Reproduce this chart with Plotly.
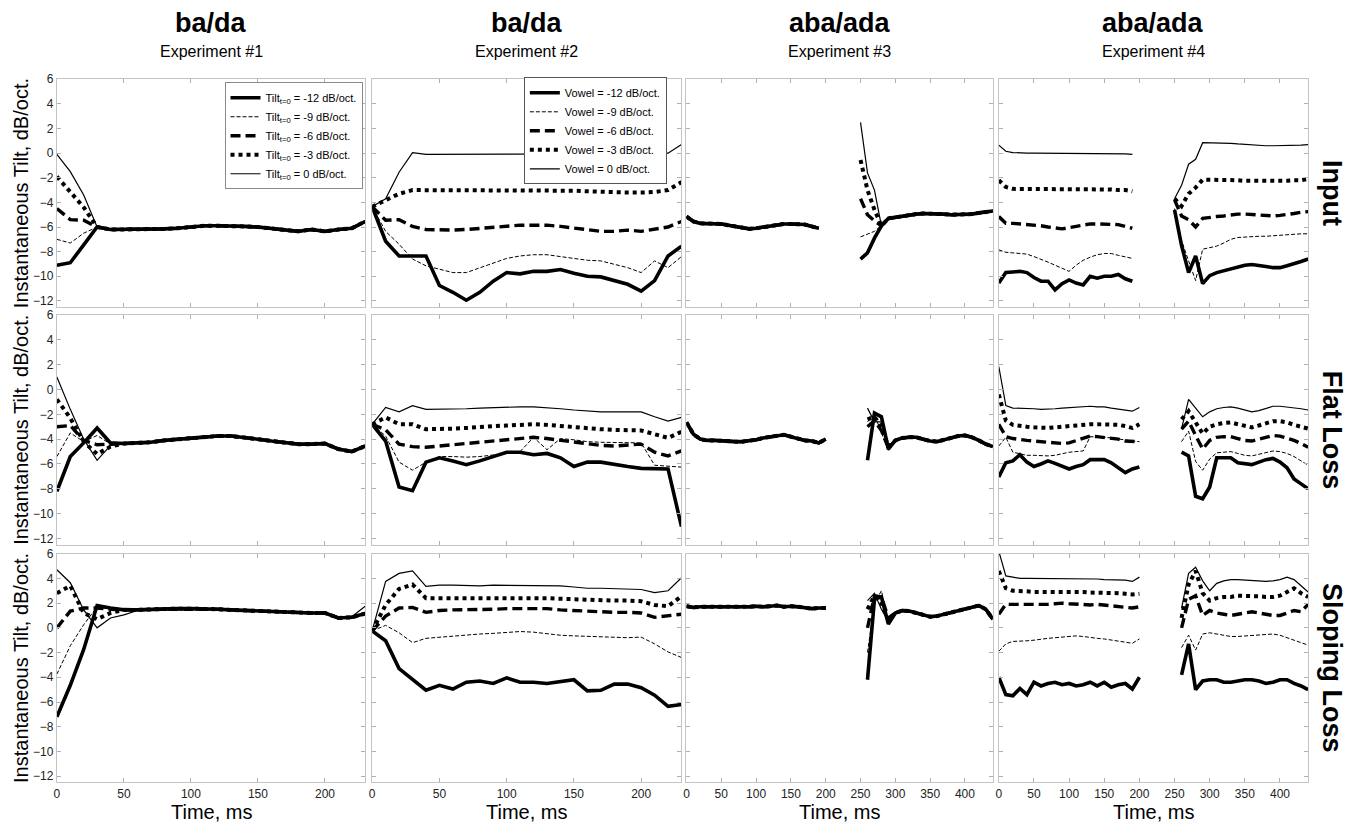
import plotly.graph_objects as go

# ---------------- data ----------------
series_keys = ["m12", "m9", "m6", "m3", "z0"]
tilt_values = [-12, -9, -6, -3, 0]
col_titles = ["ba/da", "ba/da", "aba/ada", "aba/ada"]
col_subtitles = ["Experiment #1", "Experiment #2", "Experiment #3", "Experiment #4"]
row_labels = ["Input", "Flat Loss", "Sloping Loss"]
x_ticks_short = [0, 50, 100, 150, 200]
x_ticks_long = [0, 50, 100, 150, 200, 250, 300, 350, 400]
y_ticks = [-12, -10, -8, -6, -4, -2, 0, 2, 4, 6]

# time grids (ms)
t_e12 = [0, 10, 20, 30, 40, 50, 60, 70, 80, 90, 100, 110, 120, 130, 140, 150, 160, 170, 180, 190, 200, 210, 220, 230]
t_seg1_190 = [0, 10, 20, 30, 40, 50, 60, 70, 80, 90, 100, 110, 120, 130, 140, 150, 160, 170, 180, 190]
t_seg1_200 = [0, 10, 20, 30, 40, 50, 60, 70, 80, 90, 100, 110, 120, 130, 140, 150, 160, 170, 180, 190, 200]
t_seg2_250 = [250, 260, 270, 280, 290, 300, 310, 320, 330, 340, 350, 360, 370, 380, 390, 400, 410, 420, 430, 440]
t_seg2_260 = [260, 270, 280, 290, 300, 310, 320, 330, 340, 350, 360, 370, 380, 390, 400, 410, 420, 430, 440]

# ---- Experiment 1, Input (0..230) ----
in1_common = [-6.0, -6.2, -6.2, -6.2, -6.2, -6.15, -6.1, -6.0, -5.9, -5.9, -5.9, -5.95, -6.0, -6.1, -6.2, -6.35, -6.2, -6.35, -6.2, -6.1, -5.55]
in1_m12 = [-9.1, -8.9, -7.45] + in1_common
in1_m9 = [-7.0, -7.3, -6.5] + in1_common
in1_m6 = [-4.5, -5.4, -5.45] + in1_common
in1_m3 = [-1.9, -3.1, -4.4] + in1_common
in1_z0 = [-0.1, -1.5, -3.4] + in1_common

# ---- Experiment 1, Flat Loss ----
fl1_common = [-4.35, -4.3, -4.25, -4.1, -4.0, -3.9, -3.8, -3.75, -3.75, -3.85, -4.0, -4.15, -4.3, -4.4, -4.4, -4.35, -4.8, -5.0, -4.55]
fl1_m12 = [-8.2, -5.4, -4.3, -3.1, -4.3] + fl1_common
fl1_m9 = [-5.4, -3.5, -4.2, -3.7, -4.4] + fl1_common
fl1_m6 = [-3.0, -2.9, -4.1, -4.45, -4.4] + fl1_common
fl1_m3 = [-0.8, -2.3, -4.2, -5.2, -4.6] + fl1_common
fl1_z0 = [1.0, -1.6, -4.0, -5.7, -4.5] + fl1_common

# ---- Experiment 1, Sloping Loss ----
sl1_common = [1.45, 1.45, 1.5, 1.5, 1.55, 1.55, 1.55, 1.5, 1.45, 1.4, 1.35, 1.3, 1.25, 1.2, 1.2, 1.2, 0.8, 0.85, 1.15]
sl1_m12 = [-7.2, -4.65, -1.75, 1.8, 1.6] + sl1_common
sl1_m9 = [-3.75, -1.45, 0.25, 1.7, 1.5] + sl1_common
sl1_m6 = [0.0, 1.35, 1.6, 1.6, 1.5] + sl1_common
sl1_m3 = [2.8, 3.4, 1.2, 0.7, 1.2] + sl1_common
sl1_z0 = [4.7, 3.65, 1.45, 0.0, 0.8, 1.05, 1.4, 1.5, 1.5, 1.55, 1.55, 1.55, 1.5, 1.45, 1.4, 1.35, 1.3, 1.25, 1.2, 1.2, 1.2, 0.85, 0.9, 1.75]

# ---- Experiment 2, Input ----
in2_m12 = [-4.35, -7.15, -8.35, -8.35, -8.35, -10.75, -11.3, -11.95, -11.3, -10.4, -9.7, -9.8, -9.6, -9.6, -9.45, -9.75, -10.0, -10.05, -10.35, -10.65, -11.2, -10.35, -8.35, -7.55]
in2_m9 = [-4.35, -6.35, -7.4, -8.6, -9.15, -9.4, -9.7, -9.7, -9.3, -8.9, -8.55, -8.35, -8.25, -8.25, -8.4, -8.6, -8.7, -8.75, -9.0, -9.3, -9.7, -8.75, -9.3, -8.4]
in2_m6 = [-4.35, -5.45, -5.4, -5.95, -6.2, -6.25, -6.25, -6.2, -6.1, -6.0, -5.9, -5.85, -5.85, -5.85, -5.95, -6.1, -6.2, -6.35, -6.35, -6.25, -6.35, -6.2, -6.0, -5.55]
in2_m3 = [-4.35, -3.8, -3.3, -3.0, -3.0, -3.0, -3.0, -3.0, -3.0, -3.0, -3.0, -3.0, -3.0, -3.0, -3.0, -3.05, -3.1, -3.15, -3.2, -3.2, -3.2, -3.15, -3.0, -2.35]
in2_z0 = [-4.35, -3.7, -1.55, 0.05, -0.1, -0.1, -0.05, -0.05, -0.05, -0.05, -0.05, -0.05, -0.05, -0.05, -0.05, -0.05, -0.05, -0.05, -0.05, -0.05, -0.05, -0.05, 0.0, 0.7]

# ---- Experiment 2, Flat Loss ----
fl2_m12 = [-2.8, -4.15, -7.85, -8.15, -5.85, -5.5, -5.75, -6.05, -5.75, -5.4, -5.05, -5.05, -5.25, -5.15, -5.5, -6.2, -5.85, -5.85, -6.05, -6.2, -6.35, -6.4, -6.4, -11.05]
fl2_m9 = [-2.8, -3.75, -5.85, -6.5, -5.85, -5.4, -5.4, -5.45, -5.4, -5.3, -5.15, -5.0, -3.85, -4.85, -3.95, -4.05, -4.2, -4.25, -4.25, -4.3, -4.3, -6.1, -6.2, -6.25]
fl2_m6 = [-2.8, -3.25, -4.4, -4.6, -4.65, -4.55, -4.45, -4.35, -4.25, -4.15, -4.1, -4.0, -3.85, -3.95, -4.1, -4.25, -4.4, -4.5, -4.55, -4.5, -4.4, -5.05, -5.35, -4.95]
fl2_m3 = [-2.8, -2.25, -2.8, -2.8, -3.2, -3.2, -3.15, -3.1, -3.0, -2.95, -2.9, -2.85, -2.8, -2.85, -2.95, -3.05, -3.15, -3.2, -3.25, -3.3, -3.3, -3.6, -3.9, -3.4]
fl2_z0 = [-2.8, -1.45, -1.8, -1.3, -1.6, -1.6, -1.6, -1.55, -1.5, -1.45, -1.45, -1.4, -1.4, -1.45, -1.55, -1.65, -1.75, -1.8, -1.8, -1.8, -1.8, -2.2, -2.55, -2.25]

# ---- Experiment 2, Sloping Loss ----
sl2_m12 = [-0.25, -1.05, -3.3, -4.2, -5.05, -4.65, -4.95, -4.4, -4.3, -4.5, -4.05, -4.4, -4.4, -4.5, -4.35, -4.2, -5.1, -5.05, -4.55, -4.55, -4.85, -5.45, -6.35, -6.2]
sl2_m9 = [-0.25, 0.2, -0.4, -1.2, -0.85, -0.75, -0.65, -0.55, -0.5, -0.45, -0.4, -0.3, -0.35, -0.5, -0.6, -0.65, -0.7, -0.75, -0.8, -0.8, -0.75, -1.3, -1.95, -2.4]
sl2_m6 = [-0.25, 0.95, 1.6, 1.65, 1.25, 1.4, 1.45, 1.45, 1.5, 1.5, 1.55, 1.55, 1.6, 1.55, 1.45, 1.4, 1.3, 1.25, 1.25, 1.25, 1.2, 0.85, 0.95, 1.1]
sl2_m3 = [-0.25, 1.85, 3.15, 3.5, 2.4, 2.4, 2.4, 2.4, 2.45, 2.45, 2.45, 2.45, 2.45, 2.4, 2.35, 2.3, 2.25, 2.2, 2.2, 2.2, 2.15, 1.85, 1.75, 2.55]
sl2_z0 = [-0.25, 3.75, 4.4, 4.6, 3.35, 3.45, 3.45, 3.4, 3.4, 3.45, 3.45, 3.4, 3.4, 3.4, 3.4, 3.3, 3.2, 3.2, 3.15, 3.15, 3.1, 2.85, 3.0, 4.05]

# ---- Experiment 3, Input (0..190 | 250..440) ----
in3_a = [-5.15, -5.55, -5.7, -5.7, -5.72, -5.75, -5.85, -5.95, -6.05, -6.15, -6.1, -6.0, -5.9, -5.8, -5.75, -5.75, -5.75, -5.8, -5.95, -6.1]
in3_tail = [-5.9, -5.3, -5.2, -5.1, -5.0, -4.95, -4.9, -4.9, -4.95, -4.95, -5.0, -5.0, -5.0, -4.95, -4.85, -4.8, -4.7]
in3_m12 = [-8.6, -8.1, -6.9] + in3_tail
in3_m9 = [-6.8, -6.6, -6.35] + in3_tail
in3_m6 = [-3.7, -5.0, -5.5] + in3_tail
in3_m3 = [-0.55, -3.0, -4.6] + in3_tail
in3_z0 = [2.5, -1.6, -3.0] + in3_tail

# ---- Experiment 3, Flat Loss (0..200 | 260..440) ----
fl3_a = [-2.65, -3.6, -4.0, -4.1, -4.1, -4.15, -4.15, -4.2, -4.2, -4.15, -4.05, -3.9, -3.8, -3.7, -3.65, -3.8, -3.95, -4.1, -4.15, -4.3, -4.0]
fl3_tail = [-4.1, -3.9, -3.85, -3.85, -4.0, -4.15, -4.2, -4.05, -3.9, -3.75, -3.7, -3.85, -4.1, -4.4, -4.6]
fl3_m12 = [-5.7, -1.9, -2.2, -4.8] + fl3_tail
fl3_m9 = [-2.6, -2.0, -3.5, -4.9] + fl3_tail
fl3_m6 = [-3.0, -2.5, -3.3, -4.7] + fl3_tail
fl3_m3 = [-2.4, -2.2, -3.0, -4.6] + fl3_tail
fl3_z0 = [-1.5, -2.6, -2.6, -4.5] + fl3_tail

# ---- Experiment 3, Sloping Loss (0..200 | 260..440) ----
sl3_a = [1.75, 1.65, 1.7, 1.7, 1.65, 1.7, 1.65, 1.7, 1.65, 1.7, 1.75, 1.7, 1.75, 1.8, 1.7, 1.75, 1.7, 1.6, 1.55, 1.6, 1.6]
sl3_tail = [1.2, 1.4, 1.35, 1.2, 1.0, 0.9, 0.95, 1.1, 1.25, 1.4, 1.5, 1.65, 1.8, 1.5, 0.7]
sl3_m12 = [-4.2, 2.3, 2.5, 0.3] + sl3_tail
sl3_m9 = [-2.0, 2.0, 3.0, 0.5] + sl3_tail
sl3_m6 = [0.0, 2.6, 2.5, 0.8] + sl3_tail
sl3_m3 = [1.5, 2.6, 2.0, 0.6] + sl3_tail
sl3_z0 = [2.2, 2.8, 1.5, 0.5] + sl3_tail

# ---- Experiment 4, Input (0..190 | 250..440) ----
in4_m12_a = [-10.55, -9.7, -9.65, -9.6, -9.7, -10.1, -10.4, -10.4, -11.1, -10.6, -10.3, -10.55, -10.7, -10.0, -10.15, -10.0, -10.0, -9.85, -10.2, -10.4]
in4_m9_a = [-7.85, -8.05, -8.1, -8.15, -8.2, -8.4, -8.6, -8.85, -9.1, -9.35, -9.6, -9.1, -8.7, -8.45, -8.25, -8.15, -8.15, -8.3, -8.45, -8.55]
in4_m6_a = [-5.15, -5.7, -5.7, -5.75, -5.75, -5.8, -5.9, -6.0, -6.1, -6.15, -6.05, -5.95, -5.85, -5.75, -5.75, -5.75, -5.8, -5.8, -5.95, -6.1]
in4_m3_a = [-2.2, -2.75, -2.9, -2.9, -2.95, -2.95, -2.95, -2.95, -2.95, -2.95, -2.95, -2.95, -2.95, -2.95, -2.95, -2.95, -2.95, -3.0, -3.0, -3.1]
in4_z0_a = [0.65, 0.15, 0.05, 0.0, 0.0, 0.0, 0.0, 0.0, 0.0, 0.0, 0.0, 0.0, 0.0, 0.0, 0.0, 0.0, 0.0, 0.0, -0.05, -0.1]
in4_m12_b = [-4.6, -7.5, -9.7, -8.35, -10.6, -9.95, -9.7, -9.55, -9.4, -9.25, -9.1, -9.05, -9.1, -9.2, -9.3, -9.3, -9.15, -9.0, -8.8, -8.6]
in4_m9_b = [-4.5, -7.1, -8.75, -10.35, -7.8, -7.7, -7.55, -7.3, -7.0, -6.85, -6.8, -6.75, -6.75, -6.75, -6.7, -6.7, -6.65, -6.6, -6.55, -6.55]
in4_m6_b = [-3.8, -5.1, -5.4, -6.0, -5.3, -5.2, -5.15, -5.1, -5.0, -4.95, -4.95, -5.0, -5.05, -5.1, -5.1, -5.05, -5.0, -4.9, -4.8, -4.75]
in4_m3_b = [-3.7, -4.3, -3.3, -2.8, -2.15, -2.15, -2.15, -2.2, -2.2, -2.2, -2.25, -2.25, -2.25, -2.3, -2.3, -2.3, -2.25, -2.2, -2.2, -2.1]
in4_z0_b = [-3.7, -2.6, -0.9, -0.5, 0.85, 0.85, 0.8, 0.8, 0.8, 0.75, 0.7, 0.65, 0.6, 0.6, 0.6, 0.6, 0.62, 0.65, 0.65, 0.7]

# ---- Experiment 4, Flat Loss (0..200 | 260..440) ----
fl4_m12_a = [-7.05, -5.9, -5.75, -5.25, -5.85, -6.2, -6.0, -5.75, -5.95, -6.15, -6.4, -6.2, -6.05, -5.65, -5.65, -5.65, -5.9, -6.3, -6.7, -6.4, -6.25]
fl4_m9_a = [-4.55, -3.85, -5.05, -5.2, -5.3, -5.3, -5.35, -5.35, -5.3, -5.15, -5.05, -5.0, -4.95, -3.8, -3.8, -3.85, -3.9, -4.0, -4.1, -4.15, -4.2]
fl4_m6_a = [-2.8, -3.8, -3.95, -4.05, -4.1, -4.15, -4.2, -4.25, -4.3, -4.35, -4.3, -4.1, -3.9, -3.75, -3.8, -3.85, -3.9, -4.0, -4.15, -4.2, -4.2]
fl4_m3_a = [-0.4, -2.5, -2.85, -2.95, -3.0, -3.05, -3.1, -3.1, -3.05, -3.0, -2.9, -2.85, -2.8, -2.8, -2.8, -2.8, -2.8, -2.85, -2.95, -3.1, -2.8]
fl4_z0_a = [1.85, -1.3, -1.5, -1.5, -1.55, -1.55, -1.6, -1.6, -1.55, -1.5, -1.45, -1.4, -1.35, -1.35, -1.4, -1.4, -1.5, -1.6, -1.7, -1.75, -1.45]
fl4_m12_b = [-5.05, -5.35, -8.6, -8.8, -7.85, -5.5, -5.5, -5.5, -5.9, -6.0, -6.05, -5.85, -5.65, -5.55, -5.85, -6.3, -7.2, -7.6, -8.0]
fl4_m9_b = [-4.2, -3.35, -5.8, -6.5, -5.6, -5.1, -5.05, -5.0, -5.15, -5.3, -5.35, -5.2, -5.05, -4.95, -5.0, -5.15, -5.4, -5.75, -6.1]
fl4_m6_b = [-3.2, -2.55, -3.7, -4.8, -4.1, -3.85, -3.8, -3.8, -3.95, -4.1, -4.15, -4.0, -3.8, -3.7, -3.75, -3.9, -4.1, -4.35, -4.65]
fl4_m3_b = [-2.4, -1.75, -2.65, -3.55, -3.0, -2.8, -2.7, -2.65, -2.8, -2.95, -3.05, -2.9, -2.7, -2.55, -2.55, -2.65, -2.85, -3.0, -3.15]
fl4_z0_b = [-3.15, -0.8, -1.5, -2.2, -1.8, -1.55, -1.45, -1.4, -1.5, -1.65, -1.8, -1.7, -1.5, -1.35, -1.35, -1.4, -1.45, -1.55, -1.65]

# ---- Experiment 4, Sloping Loss (0..200 | 260..440) ----
sl4_m12_a = [-4.0, -5.4, -5.5, -4.9, -5.4, -4.4, -4.7, -4.5, -4.4, -4.6, -4.5, -4.7, -4.6, -4.4, -4.7, -4.4, -4.8, -4.6, -4.5, -4.95, -4.0]
sl4_m9_a = [-1.9, -1.3, -1.1, -1.1, -1.05, -1.0, -0.9, -0.85, -0.8, -0.75, -0.7, -0.65, -0.7, -0.8, -0.85, -0.9, -1.0, -1.1, -1.15, -1.25, -0.9]
sl4_m6_a = [1.1, 1.9, 1.9, 1.9, 1.85, 1.85, 1.9, 1.9, 1.95, 2.0, 1.95, 1.9, 1.85, 1.85, 1.9, 1.85, 1.75, 1.7, 1.65, 1.6, 1.7]
sl4_m3_a = [4.6, 3.2, 3.0, 3.0, 2.95, 2.9, 2.9, 2.95, 2.95, 2.9, 2.9, 2.9, 2.9, 2.85, 2.85, 2.8, 2.8, 2.8, 2.75, 2.7, 2.75]
sl4_z0_a = [6.2, 4.2, 4.1, 4.0, 4.0, 4.0, 4.0, 4.0, 4.0, 3.95, 4.0, 4.0, 4.0, 4.0, 3.95, 3.9, 3.9, 3.85, 3.85, 3.75, 4.1]
sl4_m12_b = [-3.8, -1.3, -5.0, -4.3, -4.2, -4.2, -4.4, -4.4, -4.3, -4.2, -4.2, -4.3, -4.5, -4.4, -4.2, -4.2, -4.5, -4.7, -5.0]
sl4_m9_b = [-1.6, -0.6, -1.8, -0.5, -0.4, -0.5, -0.6, -0.7, -0.7, -0.65, -0.6, -0.55, -0.5, -0.5, -0.6, -0.8, -1.0, -1.2, -1.4]
sl4_m6_b = [0.0, 2.3, 2.6, 1.0, 1.4, 1.2, 1.1, 1.0, 1.1, 1.2, 1.3, 1.2, 1.1, 1.0, 1.0, 1.2, 1.4, 1.3, 1.9]
sl4_m3_b = [0.8, 3.5, 4.6, 2.8, 2.2, 2.4, 2.5, 2.5, 2.6, 2.6, 2.6, 2.55, 2.5, 2.5, 2.6, 2.9, 3.2, 2.8, 2.5]
sl4_z0_b = [1.6, 4.4, 4.9, 3.8, 3.0, 3.6, 3.8, 3.9, 3.9, 3.85, 3.8, 3.8, 3.75, 3.8, 3.9, 4.1, 3.9, 3.4, 2.9]

# ---------------- assembly ----------------
def join(ta, ya, tb, yb):
    return ta + [None] + tb, ya + [None] + yb

panels = {
    (0, 0): {k: (t_e12, v) for k, v in zip(series_keys, [in1_m12, in1_m9, in1_m6, in1_m3, in1_z0])},
    (1, 0): {k: (t_e12, v) for k, v in zip(series_keys, [fl1_m12, fl1_m9, fl1_m6, fl1_m3, fl1_z0])},
    (2, 0): {k: (t_e12, v) for k, v in zip(series_keys, [sl1_m12, sl1_m9, sl1_m6, sl1_m3, sl1_z0])},
    (0, 1): {k: (t_e12, v) for k, v in zip(series_keys, [in2_m12, in2_m9, in2_m6, in2_m3, in2_z0])},
    (1, 1): {k: (t_e12, v) for k, v in zip(series_keys, [fl2_m12, fl2_m9, fl2_m6, fl2_m3, fl2_z0])},
    (2, 1): {k: (t_e12, v) for k, v in zip(series_keys, [sl2_m12, sl2_m9, sl2_m6, sl2_m3, sl2_z0])},
    (0, 2): {k: join(t_seg1_190, in3_a, t_seg2_250, v) for k, v in zip(series_keys, [in3_m12, in3_m9, in3_m6, in3_m3, in3_z0])},
    (1, 2): {k: join(t_seg1_200, fl3_a, t_seg2_260, v) for k, v in zip(series_keys, [fl3_m12, fl3_m9, fl3_m6, fl3_m3, fl3_z0])},
    (2, 2): {k: join(t_seg1_200, sl3_a, t_seg2_260, v) for k, v in zip(series_keys, [sl3_m12, sl3_m9, sl3_m6, sl3_m3, sl3_z0])},
    (0, 3): {k: join(t_seg1_190, a, t_seg2_250, b) for k, a, b in zip(series_keys,
             [in4_m12_a, in4_m9_a, in4_m6_a, in4_m3_a, in4_z0_a], [in4_m12_b, in4_m9_b, in4_m6_b, in4_m3_b, in4_z0_b])},
    (1, 3): {k: join(t_seg1_200, a, t_seg2_260, b) for k, a, b in zip(series_keys,
             [fl4_m12_a, fl4_m9_a, fl4_m6_a, fl4_m3_a, fl4_z0_a], [fl4_m12_b, fl4_m9_b, fl4_m6_b, fl4_m3_b, fl4_z0_b])},
    (2, 3): {k: join(t_seg1_200, a, t_seg2_260, b) for k, a, b in zip(series_keys,
             [sl4_m12_a, sl4_m9_a, sl4_m6_a, sl4_m3_a, sl4_z0_a], [sl4_m12_b, sl4_m9_b, sl4_m6_b, sl4_m3_b, sl4_z0_b])},
}

styles = {
    "m12": dict(width=3.6, dash="solid"),
    "m9": dict(width=1.0, dash="4px,2px"),
    "m6": dict(width=3.4, dash="10px,5px"),
    "m3": dict(width=4.0, dash="4px,4px"),
    "z0": dict(width=1.2, dash="solid"),
}
draw_order = ["z0", "m3", "m9", "m6", "m12"]

W, H = 1357, 823
col_px = [(54, 363), (370, 680), (685, 992), (998, 1308)]
row_px = [(73, 303), (311, 543), (552, 783)]
FONT = "Liberation Sans, Arial, sans-serif"

fig = go.Figure()
layout = {}
for r in range(3):
    for c in range(4):
        idx = r * 4 + c + 1
        sfx = "" if idx == 1 else str(idx)
        x0, x1 = col_px[c]
        y0, y1 = row_px[r]
        xr = [0, 230] if c < 2 else [0, 440]
        xt = x_ticks_short if c < 2 else x_ticks_long
        common = dict(showline=True, linecolor="#c4c4c4", linewidth=1, mirror="ticks",
                      ticks="inside", ticklen=4, tickcolor="#b0b0b0", showgrid=False,
                      zeroline=False, tickfont=dict(family=FONT, size=12, color="#222"))
        layout["xaxis" + sfx] = dict(domain=[x0 / W, x1 / W], range=xr, tickvals=xt,
                                     showticklabels=(r == 2), anchor="y" + sfx, **common)
        layout["yaxis" + sfx] = dict(domain=[1 - y1 / H, 1 - y0 / H], range=[-12.5, 6], tickvals=y_ticks,
                                     showticklabels=(c == 0), anchor="x" + sfx, **common)
        pdata = panels[(r, c)]
        for k in draw_order:
            xs, ys = pdata[k]
            i = series_keys.index(k)
            leg = None
            show = False
            if (r, c) == (0, 0):
                show, leg = True, "legend"
                name = "Tilt<sub>t=0</sub> = %d dB/oct." % tilt_values[i]
            elif (r, c) == (0, 1):
                show, leg = True, "legend2"
                name = "Vowel = %d dB/oct." % tilt_values[i]
            else:
                name = str(tilt_values[i])
            tr = go.Scatter(x=xs, y=ys, mode="lines", name=name, showlegend=show,
                            line=dict(color="black", **styles[k]),
                            xaxis="x" + sfx, yaxis="y" + sfx, legendrank=i + 1,
                            hoverinfo="skip")
            if leg:
                tr.legend = leg
            fig.add_trace(tr)

ann = []
for c in range(4):
    xc = (col_px[c][0] + col_px[c][1]) / 2 / W
    ann.append(dict(x=xc, y=1 - 16 / H, xref="paper", yref="paper", text="<b>%s</b>" % col_titles[c],
                    showarrow=False, font=dict(family=FONT, size=27, color="black"), xanchor="center", yanchor="middle"))
    ann.append(dict(x=xc, y=1 - 45 / H, xref="paper", yref="paper", text=col_subtitles[c],
                    showarrow=False, font=dict(family=FONT, size=16, color="black"), xanchor="center", yanchor="middle"))
    ann.append(dict(x=xc, y=1 - 813 / H, xref="paper", yref="paper", text="Time, ms",
                    showarrow=False, font=dict(family=FONT, size=20, color="black"), xanchor="center", yanchor="middle"))
for r in range(3):
    yc = 1 - (row_px[r][0] + row_px[r][1]) / 2 / H
    ann.append(dict(x=1332 / W, y=yc, xref="paper", yref="paper", text="<b>%s</b>" % row_labels[r],
                    showarrow=False, textangle=90, font=dict(family=FONT, size=27, color="black"),
                    xanchor="center", yanchor="middle"))
    ann.append(dict(x=18 / W, y=yc, xref="paper", yref="paper", text="Instantaneous Tilt, dB/oct.",
                    showarrow=False, textangle=-90, font=dict(family=FONT, size=20, color="black"),
                    xanchor="center", yanchor="middle"))

layout.update(
    width=W, height=H, margin=dict(l=0, r=0, t=0, b=0),
    paper_bgcolor="white", plot_bgcolor="white",
    annotations=ann,
    legend=dict(x=222 / W, y=1 - 76 / H, xanchor="left", yanchor="top", bgcolor="white",
                bordercolor="#8a8a8a", borderwidth=1, font=dict(family=FONT, size=11, color="black"),
                tracegroupgap=0, itemwidth=30),
    legend2=dict(x=522 / W, y=1 - 71 / H, xanchor="left", yanchor="top", bgcolor="white",
                 bordercolor="#555", borderwidth=1, font=dict(family=FONT, size=11, color="black"),
                 tracegroupgap=0, itemwidth=30),
    showlegend=True,
)
fig.update_layout(**layout)
fig.write_html("out.html")
